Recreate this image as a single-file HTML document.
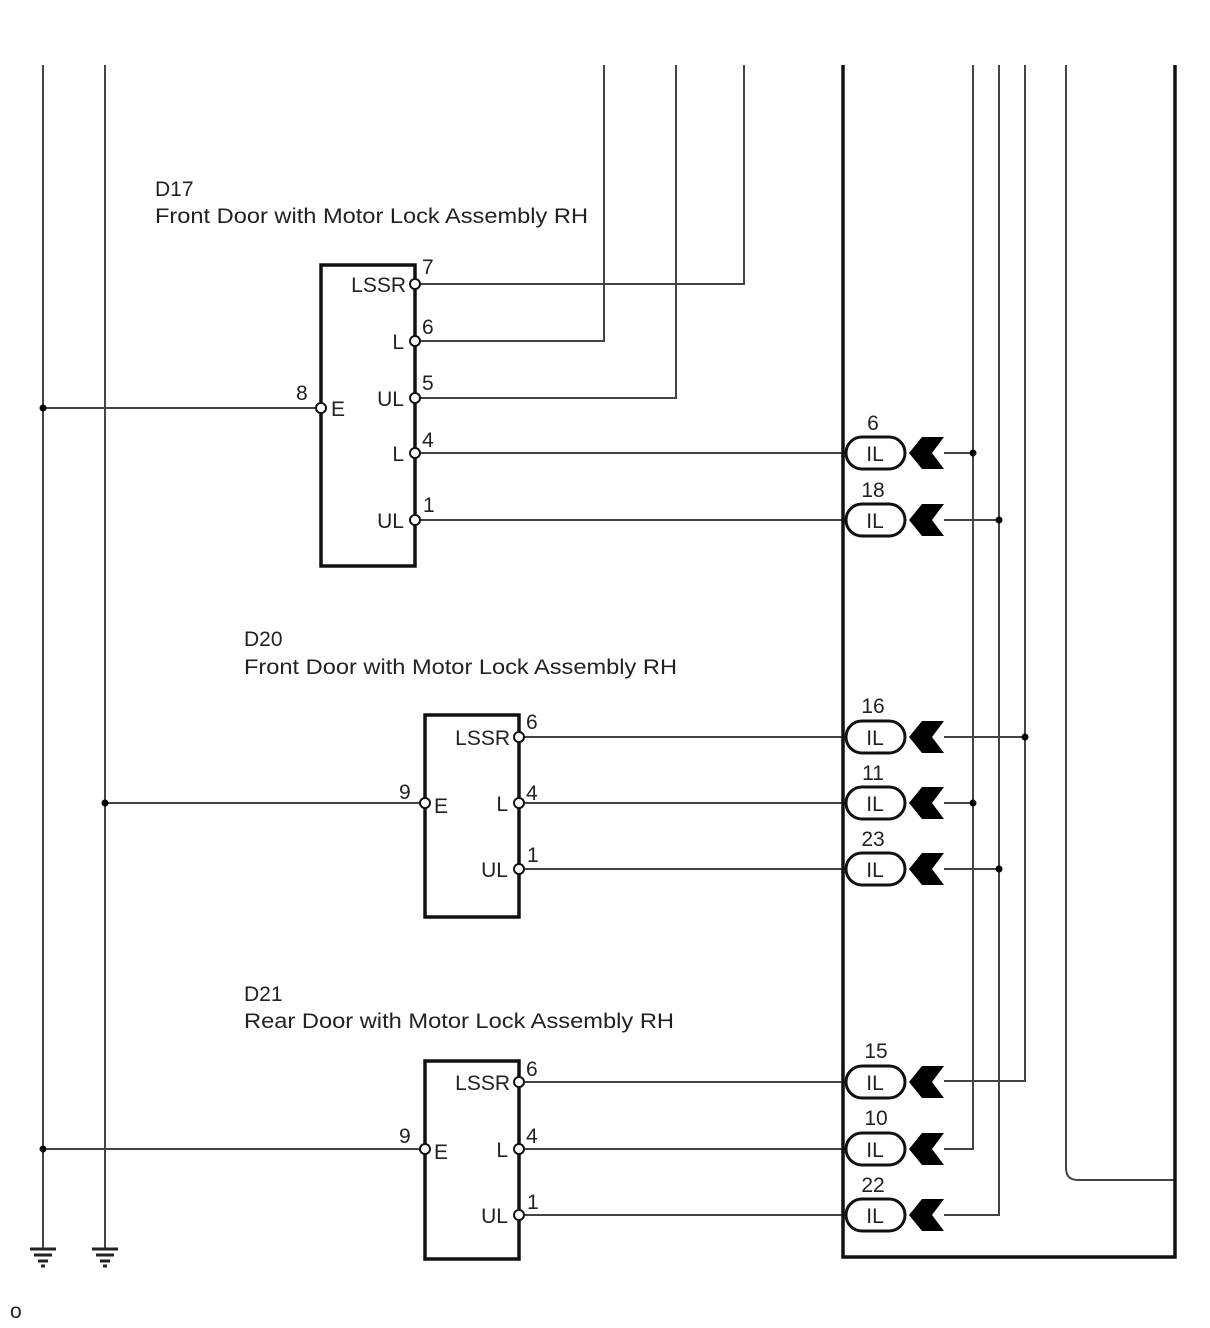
<!DOCTYPE html>
<html><head><meta charset="utf-8"><style>html,body{margin:0;padding:0;background:#fff}svg{display:block}text{font-family:"Liberation Sans",Arial,sans-serif;fill:#222}</style></head>
<body>
<svg width="1210" height="1328" viewBox="0 0 1210 1328" xmlns="http://www.w3.org/2000/svg">
<defs>
<g id="conn">
<rect x="846" y="-16" width="59" height="32" rx="16" fill="#fff" stroke="#111" stroke-width="3"/>
<text x="875" y="8" font-size="21" text-anchor="middle">IL</text>
<polygon points="909,0 922,-16 944,-16 932,0 944,16 922,16" fill="#000"/>
</g>
</defs>
<g stroke="#444" stroke-width="2" fill="none">
<line x1="43" y1="65" x2="43" y2="1248"/>
<line x1="105" y1="65" x2="105" y2="1248"/>
<polyline points="604,65 604,341 415,341"/>
<polyline points="676,65 676,398 415,398"/>
<polyline points="744,65 744,284 415,284"/>
<polyline points="973,65 973,1149 944,1149"/>
<polyline points="999,65 999,1215 944,1215"/>
<polyline points="1025,65 1025,1081 944,1081"/>
<line x1="973" y1="453" x2="944" y2="453"/>
<line x1="999" y1="520" x2="944" y2="520"/>
<line x1="1025" y1="737" x2="944" y2="737"/>
<line x1="973" y1="803" x2="944" y2="803"/>
<line x1="999" y1="869" x2="944" y2="869"/>
<path d="M1066 65 V1168 Q1066 1180 1078 1180 H1175"/>
<line x1="43" y1="408" x2="321" y2="408"/>
<line x1="105" y1="803" x2="425" y2="803"/>
<line x1="43" y1="1149" x2="425" y2="1149"/>
<line x1="415" y1="453" x2="846" y2="453"/>
<line x1="415" y1="520" x2="846" y2="520"/>
<line x1="519" y1="737" x2="846" y2="737"/>
<line x1="519" y1="803" x2="846" y2="803"/>
<line x1="519" y1="869" x2="846" y2="869"/>
<line x1="519" y1="1082" x2="846" y2="1082"/>
<line x1="519" y1="1149" x2="846" y2="1149"/>
<line x1="519" y1="1215" x2="846" y2="1215"/>
</g>
<polyline points="843,65 843,1257 1175,1257 1175,65" fill="none" stroke="#111" stroke-width="3.5"/>
<g fill="none" stroke="#111" stroke-width="3.5">
<rect x="321" y="265" width="94" height="301"/>
<rect x="425" y="715" width="94" height="202"/>
<rect x="425" y="1061" width="94" height="198"/>
</g>
<g fill="#000">
<circle cx="43" cy="408" r="3.5"/><circle cx="43" cy="1149" r="3.5"/><circle cx="105" cy="803" r="3.5"/>
<circle cx="973" cy="453" r="3.5"/><circle cx="999" cy="520" r="3.5"/><circle cx="1025" cy="737" r="3.5"/>
<circle cx="973" cy="803" r="3.5"/><circle cx="999" cy="869" r="3.5"/>
</g>
<g fill="#fff" stroke="#111" stroke-width="2">
<circle cx="415" cy="284" r="5"/><circle cx="415" cy="341" r="5"/><circle cx="415" cy="398" r="5"/><circle cx="415" cy="453" r="5"/><circle cx="415" cy="520" r="5"/><circle cx="321" cy="408" r="5"/>
<circle cx="519" cy="737" r="5"/><circle cx="519" cy="803" r="5"/><circle cx="519" cy="869" r="5"/><circle cx="425" cy="803" r="5"/>
<circle cx="519" cy="1082" r="5"/><circle cx="519" cy="1149" r="5"/><circle cx="519" cy="1215" r="5"/><circle cx="425" cy="1149" r="5"/>
</g>
<use href="#conn" y="453"/><use href="#conn" y="520"/><use href="#conn" y="737"/><use href="#conn" y="803"/><use href="#conn" y="869"/><use href="#conn" y="1082"/><use href="#conn" y="1149"/><use href="#conn" y="1215"/>
<g font-size="21" text-anchor="middle">
<text x="873" y="430">6</text><text x="873" y="497">18</text><text x="873" y="713">16</text><text x="873" y="780">11</text><text x="873" y="846">23</text><text x="876" y="1058">15</text><text x="876" y="1125">10</text><text x="873" y="1192">22</text>
</g>
<g stroke="#222" stroke-width="3">
<line x1="30" y1="1249" x2="56" y2="1249"/><line x1="34" y1="1255" x2="52" y2="1255"/><line x1="38" y1="1261" x2="48" y2="1261"/><line x1="41" y1="1266" x2="45" y2="1266"/>
<line x1="92" y1="1249" x2="118" y2="1249"/><line x1="96" y1="1255" x2="114" y2="1255"/><line x1="100" y1="1261" x2="110" y2="1261"/><line x1="103" y1="1266" x2="107" y2="1266"/>
</g>
<g font-size="21">
<text x="155" y="196">D17</text>
<text x="155" y="223" textLength="433" lengthAdjust="spacingAndGlyphs">Front Door with Motor Lock Assembly RH</text>
<text x="244" y="646">D20</text>
<text x="244" y="674" textLength="433" lengthAdjust="spacingAndGlyphs">Front Door with Motor Lock Assembly RH</text>
<text x="244" y="1001">D21</text>
<text x="244" y="1028" textLength="430" lengthAdjust="spacingAndGlyphs">Rear Door with Motor Lock Assembly RH</text>
<text x="10" y="1318">o</text>
</g>
<g font-size="21" text-anchor="end">
<text x="406" y="292">LSSR</text><text x="404" y="349">L</text><text x="404" y="406">UL</text><text x="404" y="461">L</text><text x="404" y="528">UL</text>
<text x="510" y="745">LSSR</text><text x="508" y="811">L</text><text x="508" y="877">UL</text>
<text x="510" y="1090">LSSR</text><text x="508" y="1157">L</text><text x="508" y="1223">UL</text>
</g>
<g font-size="21">
<text x="422" y="274">7</text><text x="422" y="334">6</text><text x="422" y="390">5</text><text x="422" y="447">4</text><text x="423" y="512">1</text>
<text x="296" y="400">8</text><text x="331" y="416">E</text>
<text x="526" y="729">6</text><text x="526" y="800">4</text><text x="527" y="862">1</text>
<text x="399" y="799">9</text><text x="434" y="813">E</text>
<text x="526" y="1076">6</text><text x="526" y="1143">4</text><text x="527" y="1209">1</text>
<text x="399" y="1143">9</text><text x="434" y="1159">E</text>
</g>
</svg>
</body></html>
